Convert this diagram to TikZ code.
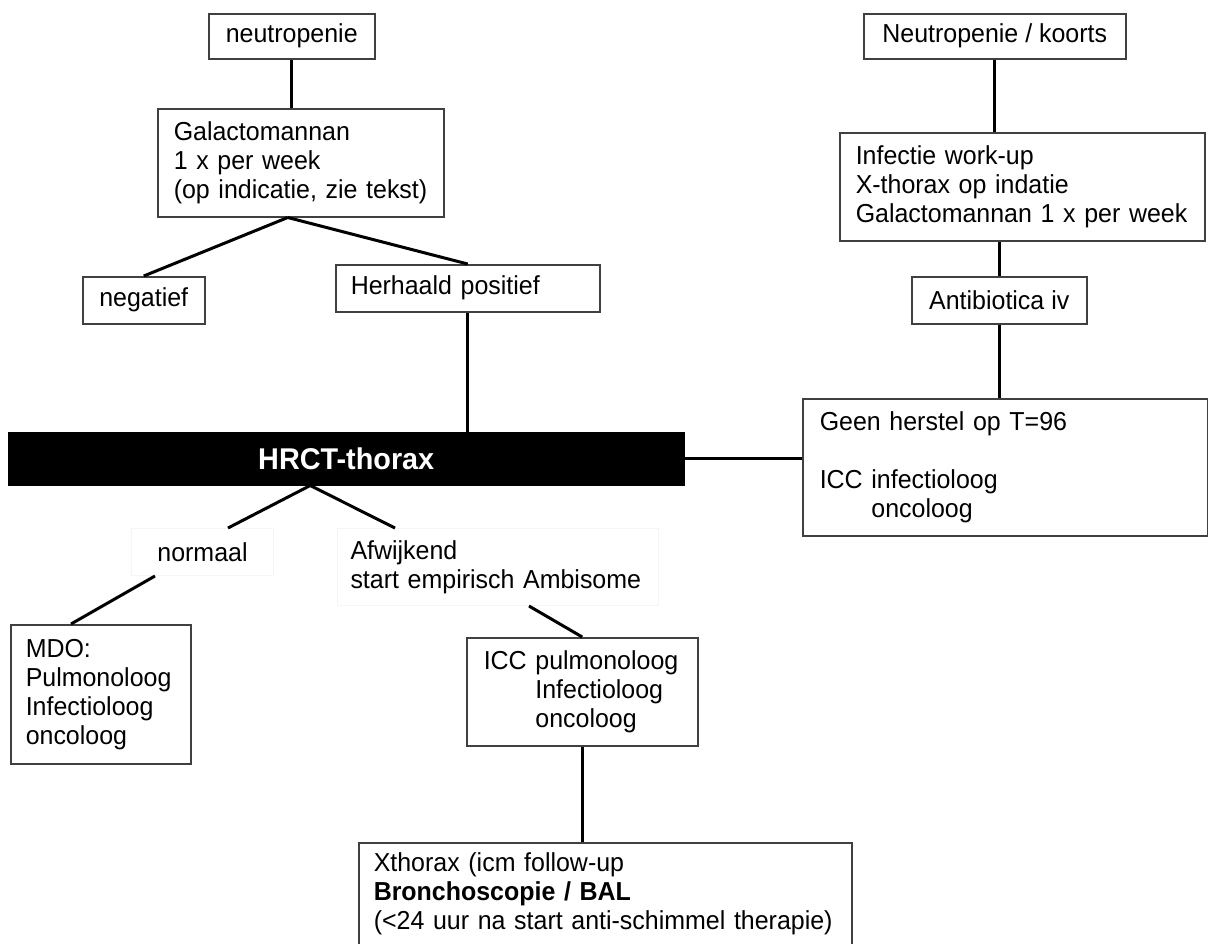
\documentclass[tikz,border=0pt]{standalone}
\usepackage{fontspec}
\setmainfont{Liberation Sans}[FakeStretch=0.96]
\usetikzlibrary{calc}
\newcommand\bodyfont{\fontsize{26}{29}\selectfont\hyphenpenalty=10000\exhyphenpenalty=10000}
\begin{document}
\begin{tikzpicture}[x=1pt,y=-1pt,
  box/.style={draw=black!75, line width=1.5pt, fill=white, anchor=north west, inner ysep=0pt, inner xsep=0pt, font=\bodyfont},
  cbox/.style={box, align=center},
  lbox/.style={box, align=left},
  faint/.style={draw=black!4, line width=1pt},
  conn/.style={line width=3pt, black},
]
\fill[white] (0,0) rectangle (1208,943);
\useasboundingbox (0,0) rectangle (1208,943);

% left column
\node[cbox, minimum width=166pt, minimum height=45pt] (neutro) at (208,13) {neutropenie};
\node[lbox, minimum height=108pt, inner xsep=16pt, text width=254pt] (galacto) at (157,108)
  {\mbox{Galactomannan}\\\mbox{1 x per week}\\\mbox{(op indicatie, zie tekst)}};
\node[cbox, minimum width=122pt, minimum height=47pt] (neg) at (82,276) {negatief};
\node[lbox, minimum height=47pt, inner xsep=15pt, text width=234pt] (herh) at (335,264) {\mbox{Herhaald positief}};

% right column
\node[cbox, minimum width=262pt, minimum height=45pt] (koorts) at (863,13) {Neutropenie / koorts};
\node[lbox, minimum height=108pt, inner xsep=16pt, text width=333pt] (infectie) at (839,132)
  {\mbox{Infectie work-up}\\\mbox{X-thorax op indatie}\\\mbox{Galactomannan 1 x per week}};
\node[cbox, minimum width=175pt, minimum height=47pt] (antib) at (911,276) {Antibiotica iv};
\node[lbox, minimum height=137pt, inner xsep=17pt, text width=371pt] (geen) at (802,398)
  {\mbox{Geen herstel op T=96}\\\mbox{}\\\mbox{ICC infectioloog}\\\mbox{\hphantom{ICC\ }oncoloog}};

% central bar
\node[box, fill=black, draw=black, minimum width=675pt, minimum height=52pt, text=white,
  font=\fontsize{30}{33}\selectfont\bfseries] (hrct) at (8,432) {HRCT-thorax};

% lower part
\node[cbox, faint, minimum width=142pt, minimum height=47pt] (normaal) at (131,528) {normaal};
\node[lbox, faint, minimum height=77pt, inner xsep=13pt, text width=295pt] (afw) at (337,528)
  {\mbox{Afwijkend}\\\mbox{start empirisch Ambisome}};
\node[lbox, minimum height=139pt, inner xsep=15pt, text width=150pt] (mdo) at (10,624)
  {\mbox{MDO:}\\\mbox{Pulmonoloog}\\\mbox{Infectioloog}\\\mbox{oncoloog}};
\node[lbox, minimum height=108pt, inner xsep=17pt, text width=197pt] (icc) at (466,637)
  {\mbox{ICC pulmonoloog}\\\mbox{\hphantom{ICC\ }Infectioloog}\\\mbox{\hphantom{ICC\ }oncoloog}};
\node[lbox, minimum height=102pt, inner xsep=15pt, text width=463pt] (xth) at (358,842)
  {\mbox{Xthorax (icm follow-up}\\\mbox{\textbf{Bronchoscopie / BAL}}\\\mbox{(<24 uur na start anti-schimmel therapie)}};

% connectors
\coordinate (gs) at ([xshift=-13pt]galacto.south);
\coordinate (hs) at ([xshift=-36pt]hrct.south);
\draw[conn] (neutro.south) -- (neutro.south |- galacto.north);
\draw[conn] (gs) -- (neg.north);
\draw[conn] (gs) -- (herh.north);
\draw[conn] (herh.south) -- (herh.south |- hrct.north);
\draw[conn] (koorts.south) -- (koorts.south |- infectie.north);
\draw[conn] (antib.north |- infectie.south) -- (antib.north);
\draw[conn] (antib.south) -- (antib.south |- geen.north);
\draw[conn] (hrct.east) -- (hrct.east -| geen.west);
\draw[conn] (hs) -- ([xshift=97pt]normaal.north west);
\draw[conn] (hs) -- ([xshift=58pt]afw.north west);
\draw[conn] ([xshift=24pt]normaal.south west) -- ([xshift=61pt]mdo.north west);
\draw[conn] ([xshift=192pt]afw.south west) -- (icc.north);
\draw[conn] (icc.south) -- (icc.south |- xth.north);
\end{tikzpicture}
\end{document}
